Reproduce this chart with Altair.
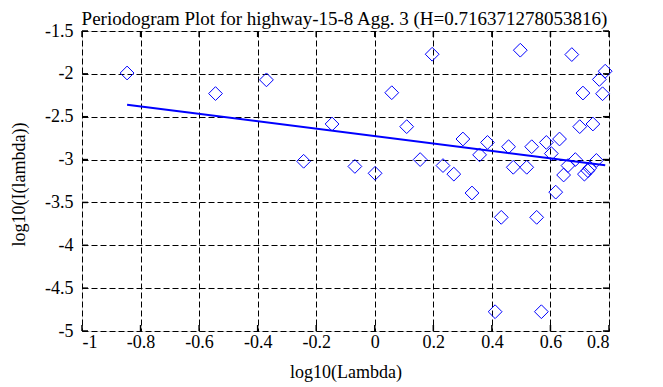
import altair as alt
import pandas as pd

# log10(Lambda) and log10(I(lambda))
x_vals = [-0.846, -0.544, -0.370, -0.243, -0.146, -0.068, 0.001, 0.058, 0.109, 0.155,
          0.196, 0.233, 0.270, 0.301, 0.332, 0.358, 0.385, 0.411, 0.432, 0.457,
          0.473, 0.497, 0.519, 0.536, 0.553, 0.569, 0.586, 0.603, 0.618, 0.631,
          0.645, 0.660, 0.673, 0.685, 0.700, 0.711, 0.716, 0.728, 0.734, 0.745,
          0.757, 0.767, 0.778, 0.787]
y_vals = [-1.99, -2.23, -2.07, -3.02, -2.585, -3.08, -3.16, -2.22, -2.616, -3.00,
          -1.771, -3.07, -3.17, -2.76, -3.39, -2.945, -2.80, -4.775, -3.674, -2.85,
          -3.09, -1.724, -3.09, -2.85, -3.674, -4.775, -2.80, -2.93, -3.38, -2.76,
          -3.18, -3.07, -1.775, -3.00, -2.616, -2.224, -3.17, -3.13, -3.10, -2.585,
          -3.01, -2.065, -2.232, -1.969]

# fitted line endpoints
fit_x = [-0.846, 0.787]
fit_y = [-2.360, -3.067]

x_ticks = [-1, -0.8, -0.6, -0.4, -0.2, 0, 0.2, 0.4, 0.6, 0.8]
y_ticks = [-5, -4.5, -4, -3.5, -3, -2.5, -2, -1.5]

title_text = "Periodogram Plot for highway-15-8 Agg. 3 (H=0.716371278053816)"

W, H = 527, 300
FONT = "Liberation Serif"

pts = pd.DataFrame({"x": x_vals, "y": y_vals})
fit = pd.DataFrame({"x": fit_x, "y": fit_y})
xt = pd.DataFrame({"v": x_ticks})
yt = pd.DataFrame({"v": y_ticks})
ttl = pd.DataFrame({"t": [title_text]})

xscale = alt.Scale(domain=[-1, 0.8], nice=False, zero=False)
yscale = alt.Scale(domain=[-5, -1.5], nice=False, zero=False)

xaxis = alt.Axis(values=x_ticks, labelExpr="'' + datum.value", ticks=False, domain=False,
                 grid=True, gridColor="black", gridDash=[6, 3], gridOpacity=1, gridWidth=1,
                 labelFont=FONT, labelFontSize=18, labelColor="black", labelPadding=2,
                 title="log10(Lambda)", titleFont=FONT, titleFontSize=18, titleFontWeight="normal",
                 titleColor="black", titleY=32, titleBaseline="top")
yaxis = alt.Axis(values=y_ticks, labelExpr="'' + datum.value", ticks=False, domain=False,
                 grid=True, gridColor="black", gridDash=[6, 3], gridOpacity=1, gridWidth=1,
                 labelFont=FONT, labelFontSize=18, labelColor="black", labelPadding=9,
                 title="log10(I(lambda))", titleFont=FONT, titleFontSize=18, titleFontWeight="normal",
                 titleColor="black", titleX=-54, titleY=153, titleAngle=-90,
                 titleAlign="center", titleBaseline="bottom")

points = alt.Chart(pts).mark_point(shape="diamond", size=190, filled=False,
                                   color="#0000ff", strokeWidth=1, opacity=1).encode(
    x=alt.X("x:Q", scale=xscale, axis=xaxis),
    y=alt.Y("y:Q", scale=yscale, axis=yaxis),
)

line = alt.Chart(fit).mark_line(color="#0000ff", strokeWidth=2).encode(
    x=alt.X("x:Q", scale=xscale),
    y=alt.Y("y:Q", scale=yscale),
)

TL = 6
xt_top = alt.Chart(xt).mark_rule(color="black", strokeWidth=1.5).encode(
    x=alt.X("v:Q", scale=xscale), y=alt.value(0), y2=alt.value(TL))
xt_bot = alt.Chart(xt).mark_rule(color="black", strokeWidth=1.5).encode(
    x=alt.X("v:Q", scale=xscale), y=alt.value(H - TL), y2=alt.value(H))
yt_left = alt.Chart(yt).mark_rule(color="black", strokeWidth=1.5).encode(
    y=alt.Y("v:Q", scale=yscale), x=alt.value(0), x2=alt.value(TL))
yt_right = alt.Chart(yt).mark_rule(color="black", strokeWidth=1.5).encode(
    y=alt.Y("v:Q", scale=yscale), x=alt.value(W - TL), x2=alt.value(W))

title_mark = alt.Chart(ttl).mark_text(font=FONT, fontSize=19, color="black",
                                      align="center", baseline="alphabetic").encode(
    text="t:N", x=alt.value(W / 2 - 1), y=alt.value(-6))

chart = alt.layer(points, line, xt_top, xt_bot, yt_left, yt_right, title_mark).properties(
    width=W, height=H,
    autosize=alt.AutoSizeParams(type="none"),
    padding={"left": 74, "top": 23, "right": 46, "bottom": 56},
).configure_view(stroke="black", strokeWidth=2.5).configure(background="white")

chart.save("out.html", embed_options={"renderer": "svg", "actions": False})
